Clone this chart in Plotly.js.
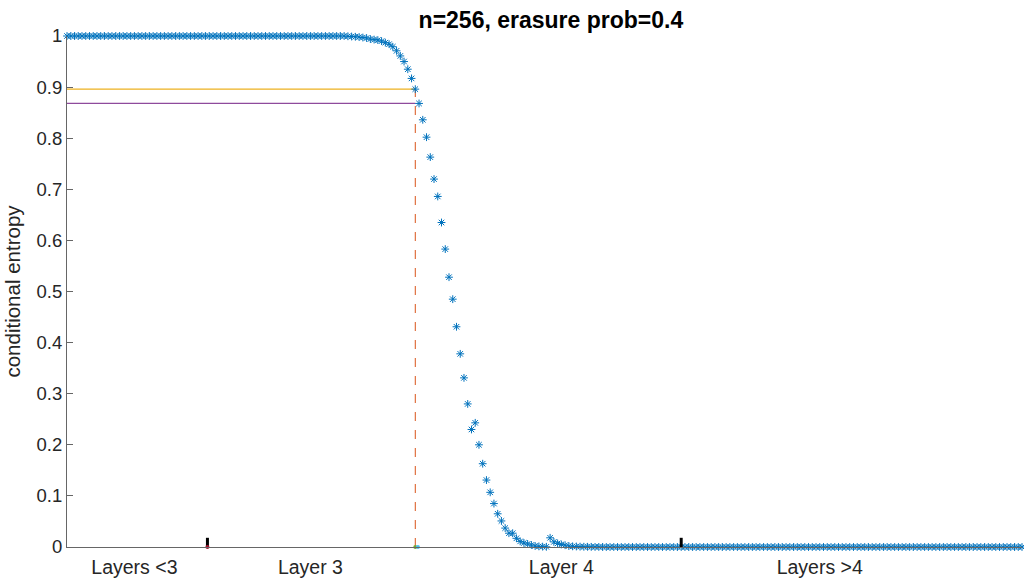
<!DOCTYPE html>
<html>
<head>
<meta charset="utf-8">
<script src="https://cdn.plot.ly/plotly-3.0.1.min.js"></script>
<style>html,body{margin:0;padding:0;background:#fff}#chart{width:1024px;height:579px}</style>
</head>
<body>
<div id="chart"></div>
<script>
// conditional entropy per synthetic channel index (1..256)
const entropy = [
1,1,1,1,1,1,1,1,1,1, 1,1,1,1,1,1,1,1,1,1,
1,1,1,1,1,1,1,1,1,1, 1,1,1,1,1,1,1,1,1,1,
1,1,1,1,1,1,1,1,1,1, 1,1,1,1,1,1,1,1,1,1,
1,1,1,1,1,1,1,1,1,1, 1,1,1,1,1,0.9995,0.999,0.9985,0.998,0.997,
0.996,0.994,0.993,0.992,0.990,0.987,0.984,0.979,0.971,0.961,
0.950,0.935,0.917,0.896,0.868,0.836,0.802,0.763,0.720,0.686,
0.635,0.583,0.528,0.485,0.431,0.378,0.331,0.280,0.230,0.243,
0.200,0.163,0.131,0.107,0.085,0.065,0.051,0.037,0.027,0.027,
0.017,0.011,0.008,0.006,0.004,0.002,0.0013,0.0007,0.0004,0.018,
0.010,0.007,0.005,0.0035,0.002,0.0013,0.001,0.0007,0.0005,0.0004,
0.0003,0.0002,0.0002,0.0001,0,0,0,0,0,0,
0,0,0,0,0,0,0,0,0,0, 0,0,0,0,0,0,0,0,0,0,
0,0,0,0,0,0,0,0,0,0, 0,0,0,0,0,0,0,0,0,0,
0,0,0,0,0,0,0,0,0,0, 0,0,0,0,0,0,0,0,0,0,
0,0,0,0,0,0,0,0,0,0, 0,0,0,0,0,0,0,0,0,0,
0,0,0,0,0,0,0,0,0,0, 0,0,0,0,0,0,0,0,0,0,
0,0,0,0,0,0
];
const channelIndex = entropy.map((_, k) => k + 1);

const layerLabels = ['Layers <3', 'Layer 3', 'Layer 4', 'Layers >4'];
const layerLabelX = [19, 66, 133, 202];
const layerBoundaryX = [38.5, 165];
const boundaryBarHeight = 0.018;
const thresholdX = 94;
const orangeLevel = 0.896;
const purpleLevel = 0.868;
const titleText = 'n=256, erasure prob=0.4';
const yTicks = [0,0.1,0.2,0.3,0.4,0.5,0.6,0.7,0.8,0.9,1];

const font = 'Liberation Sans, Arial, Helvetica, sans-serif';

const traces = [
  {x:[1, thresholdX], y:[orangeLevel, orangeLevel], mode:'lines', line:{color:'#EDB120', width:1.2}, hoverinfo:'skip'},
  {x:[1, thresholdX], y:[purpleLevel, purpleLevel], mode:'lines', line:{color:'#8E4A9C', width:1.2}, hoverinfo:'skip'},
  {x:[thresholdX, thresholdX], y:[0, orangeLevel], mode:'lines', line:{color:'#D95319', width:1, dash:'dash'}, hoverinfo:'skip'},
  {x:channelIndex, y:entropy, mode:'markers', cliponaxis:false,
   marker:{symbol:'asterisk-open', size:6.5, color:'#0072BD', line:{color:'#0072BD', width:1}}},
  {x:[layerBoundaryX[0], layerBoundaryX[0], null, layerBoundaryX[1], layerBoundaryX[1]],
   y:[0, boundaryBarHeight, null, 0, boundaryBarHeight], mode:'lines', cliponaxis:false,
   line:{color:'#000', width:3}, hoverinfo:'skip'},
  {x:[layerBoundaryX[0]], y:[0], mode:'markers', cliponaxis:false, marker:{color:'#A2142F', size:4}},
  {x:[thresholdX], y:[0], mode:'markers', cliponaxis:false, marker:{color:'#77AC30', size:4}},
  {x:[thresholdX + 0.7], y:[0], mode:'markers', cliponaxis:false, marker:{color:'#4DBEEE', size:4}}
];

const layout = {
  width:1024, height:579,
  margin:{l:67, r:2, t:36, b:32},
  paper_bgcolor:'#fff', plot_bgcolor:'#fff',
  showlegend:false,
  font:{family:font, color:'#262626', size:19},
  title:{text:'<b>'+titleText+'</b>', font:{family:font, size:23, color:'#000'},
         x:0.538, xref:'container', xanchor:'center', y:0.965, yref:'container', yanchor:'middle'},
  xaxis:{range:[1,256], showgrid:false, zeroline:false, showline:true, linecolor:'#666', linewidth:1,
         tickmode:'array', tickvals:layerLabelX, ticktext:layerLabels, ticks:'', ticklabelstandoff:3,
         tickfont:{family:font, size:19.5, color:'#262626'}},
  yaxis:{range:[0,1], showgrid:false, zeroline:false, showline:true, linecolor:'#666', linewidth:1,
         tickmode:'array', tickvals:yTicks, ticktext:yTicks.map(String), ticks:'inside', ticklen:6, tickcolor:'#666',
         ticklabelstandoff:0,
         tickfont:{family:font, size:18.5, color:'#262626'},
         title:{text:'conditional entropy', font:{family:font, size:20.5, color:'#262626'}, standoff:10}}
};

Plotly.newPlot('chart', traces, layout, {displayModeBar:false, staticPlot:true});
</script>
</body>
</html>
